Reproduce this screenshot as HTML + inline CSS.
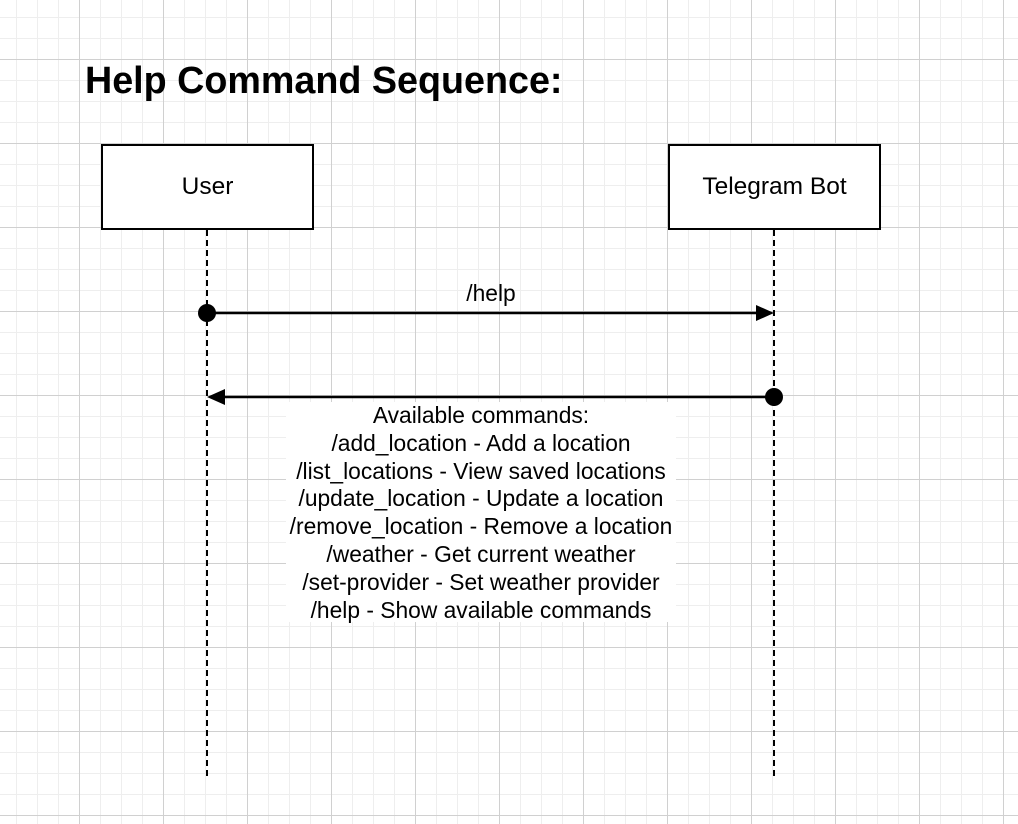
<!DOCTYPE html>
<html><head><style>
html,body{margin:0;padding:0;}
body{width:1018px;height:824px;overflow:hidden;background:#fff;
background-image:
linear-gradient(to right,#d0d0d0 1px,transparent 1px),
linear-gradient(to bottom,#d0d0d0 1px,transparent 1px),
linear-gradient(to right,#eeeeee 1px,transparent 1px),
linear-gradient(to bottom,#eeeeee 1px,transparent 1px);
background-size:84px 84px,84px 84px,21px 21px,21px 21px;
background-position:79px 59px,79px 59px,16px 17px,16px 17px;
font-family:"Liberation Sans",Arial,sans-serif;position:relative;}
.t{position:absolute;left:85px;top:59px;font-size:37.7px;font-weight:bold;color:#000;}
.box{position:absolute;border:2px solid #000;background:#fff;box-sizing:border-box;display:flex;align-items:center;justify-content:center;font-size:24.5px;}
.msg{position:absolute;left:286px;top:402px;width:390px;height:220px;background:#fff;text-align:center;font-size:22.8px;line-height:27.8px;white-space:nowrap;}
</style></head><body>
<div class="t">Help Command Sequence:</div>
<div class="box" style="left:101px;top:144px;width:213px;height:86px;">User</div>
<div class="box" style="left:668px;top:144px;width:213px;height:86px;">Telegram Bot</div>
<div class="msg">Available commands:<br>/add_location - Add a location<br>/list_locations - View saved locations<br>/update_location - Update a location<br>/remove_location - Remove a location<br>/weather - Get current weather<br>/set-provider - Set weather provider<br>/help - Show available commands</div>
<svg width="1018" height="824" style="position:absolute;left:0;top:0">
<line x1="207" y1="230" x2="207" y2="776" stroke="#000" stroke-width="2" stroke-dasharray="6,4"/>
<line x1="774" y1="230" x2="774" y2="776" stroke="#000" stroke-width="2" stroke-dasharray="6,4"/>
<circle cx="207" cy="313" r="9" fill="#000"/>
<line x1="207" y1="313" x2="760" y2="313" stroke="#000" stroke-width="2.5"/>
<polygon points="774,313 756,305 756,321" fill="#000"/>
<circle cx="774" cy="397" r="9" fill="#000"/>
<line x1="222" y1="397" x2="774" y2="397" stroke="#000" stroke-width="2.5"/>
<polygon points="207,397 225,389 225,405" fill="#000"/>
<text x="491" y="301" font-size="22.8" text-anchor="middle" font-family="Liberation Sans,Arial,sans-serif">/help</text>
</svg>
</body></html>
